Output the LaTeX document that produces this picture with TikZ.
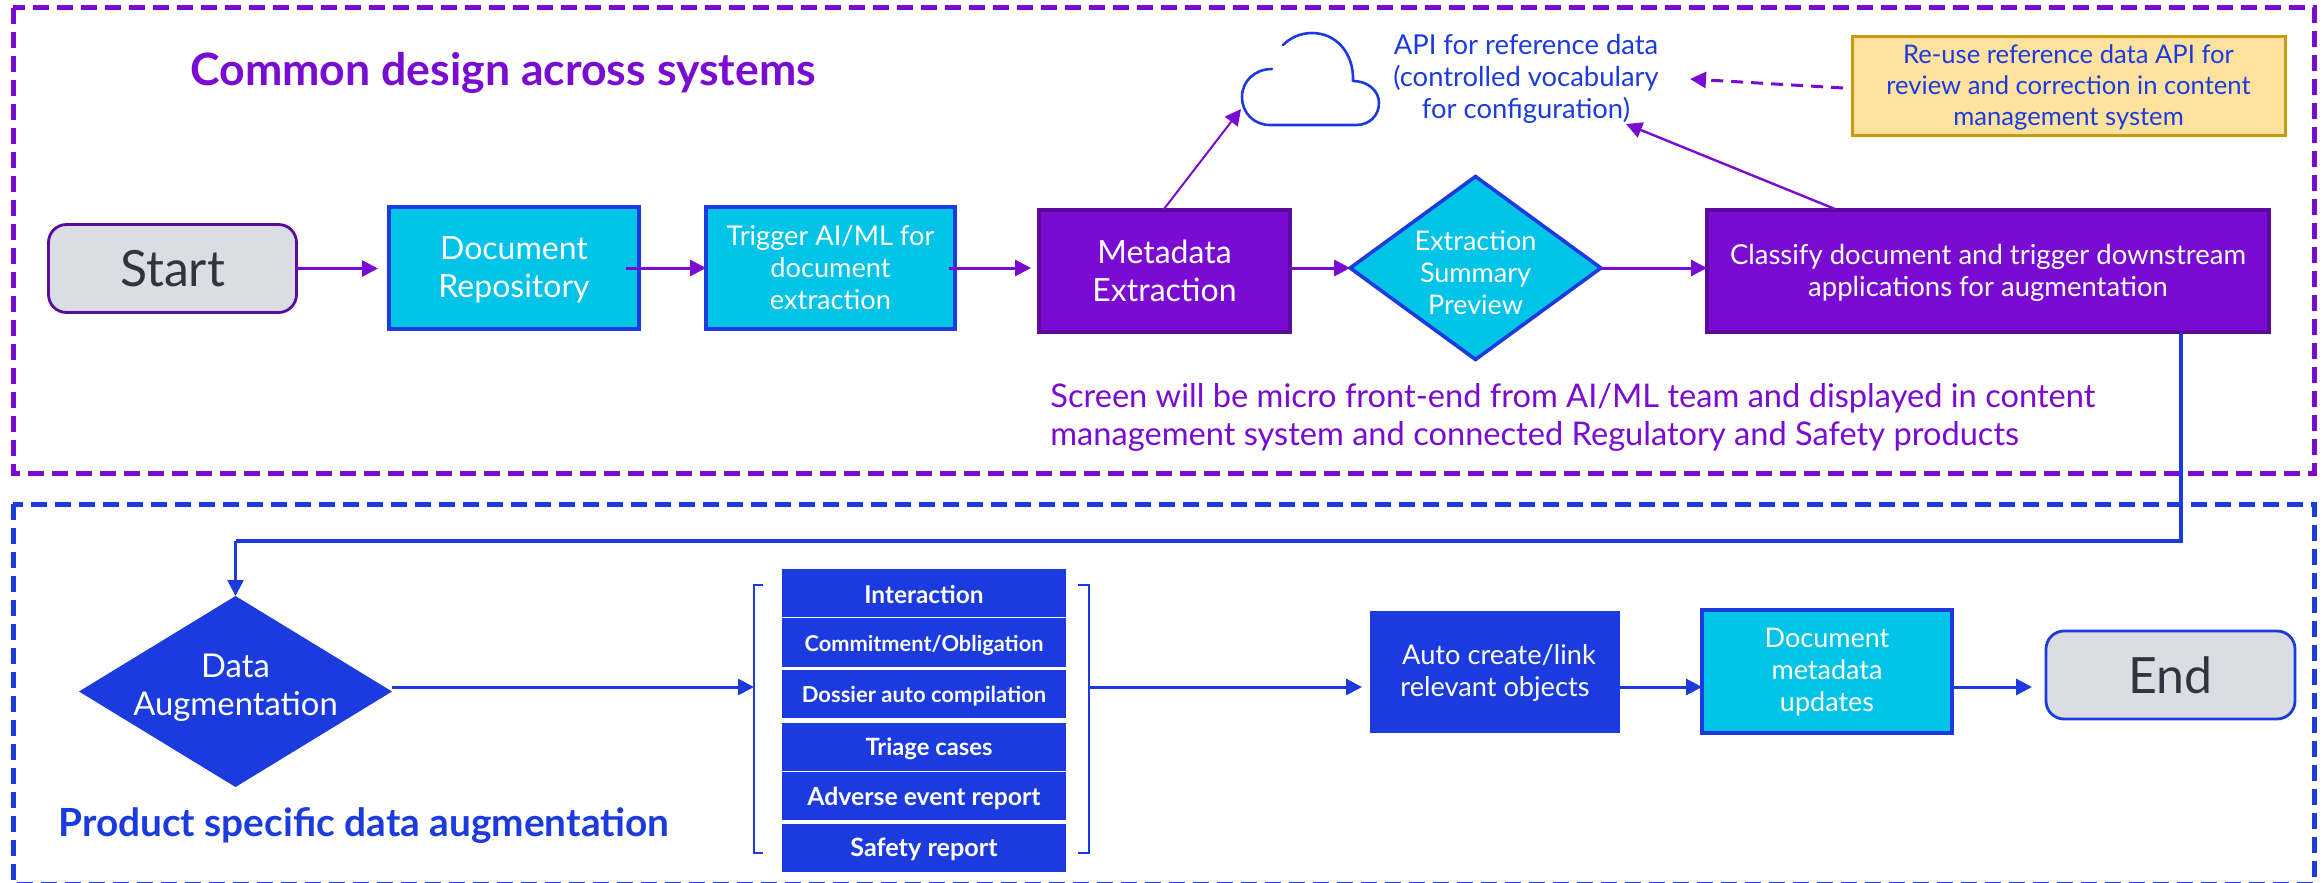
\documentclass[tikz,border=0pt]{standalone}
\usepackage{fontspec}
\setmainfont{Lato}
\usetikzlibrary{arrows.meta,shapes.geometric,calc}
\definecolor{pur}{HTML}{7A0BD2}
\definecolor{purd}{HTML}{5C0A9E}
\definecolor{blu}{HTML}{1B3BDF}
\definecolor{cya}{HTML}{02C4E8}
\definecolor{gry}{HTML}{DCDCE4}
\definecolor{ink}{HTML}{33333F}
\definecolor{yel}{HTML}{FFE29E}
\definecolor{yeld}{HTML}{C99A0E}
\newcommand{\fs}[2]{\fontsize{#1}{#2}\selectfont}
\newcommand{\dn}[1]{\rule{0pt}{#1}}
\tikzset{
  wd/.style={minimum width=#1*0.5pt},
  ht/.style={minimum height=#1*0.5pt},
  basebox/.style={inner sep=0pt,outer sep=0pt,align=center,text=white},
  cyanbox/.style={basebox,draw=blu,fill=cya,line width=2pt},
  purbox/.style={basebox,draw=purd,fill=pur,line width=2pt},
  bluebox/.style={basebox,fill=blu},
  termbox/.style={basebox,fill=gry,line width=1.4pt,rounded corners=9pt,text=ink},
  dmd/.style={diamond,aspect=#1,inner sep=0pt,outer sep=0pt,align=center,text=white},
  frameP/.style={draw=pur,line width=2.5pt,dash pattern=on 8pt off 4pt},
  frameB/.style={draw=blu,line width=2.5pt,dash pattern=on 8pt off 4pt},
  arrP/.style={draw=pur,line width=1.5pt,-{Triangle[length=8pt,width=8pt]}},
  arrB/.style={draw=blu,line width=1.5pt,-{Triangle[length=8pt,width=8pt]}},
  stk/.style={basebox,fill=blu,wd=284},
}
\begin{document}
\begin{tikzpicture}[x=0.5pt,y=-0.5pt]
\useasboundingbox (0,0) rectangle (2323,883);
\fill[white] (0,0) rectangle (2323,883);
% frames
\draw[frameP] (13,8) rectangle (2314,473);
\draw[frameB] (13,504) rectangle (2314,884);
% titles
\node[anchor=west,inner sep=0pt,text=pur,font=\bfseries\fs{22.3}{26}] (t1) at (190,73) {Common design across systems};
\node[anchor=west,inner sep=0pt,text=blu,font=\bfseries\fs{19.4}{23}] (t2) at (58,826) {Product specific data augmentation};
% upper row
\node[termbox,draw=purd,wd=248,ht=88,font=\fs{25}{28}] (start) at (172.5,268.5) {Start};
\node[cyanbox,wd=250,ht=122,font=\fs{16}{19}] (repo) at (514,268) {\dn{13pt}Document\\Repository};
\node[cyanbox,wd=249,ht=122,font=\fs{13.6}{16}] (trig) at (830.5,268) {Trigger AI/ML for\\document\\extraction};
\node[purbox,wd=251,ht=122,font=\fs{16}{19}] (meta) at (1164.5,271) {Metadata\\Extraction};
\node[dmd=1.37,draw=blu,fill=cya,line width=1.8pt,minimum width=125pt,minimum height=91pt,font=\fs{13.5}{16}] (prev) at (1475.5,268) {\dn{15pt}Extraction\\Summary\\Preview};
\node[purbox,wd=562,ht=122,font=\fs{13.75}{16}] (cls) at (1988,271) {\dn{12pt}Classify document and trigger downstream\\applications for augmentation};
% cloud
\draw[blu,line width=1.3pt,line cap=round,line join=round] (1272,69) .. controls (1255,69) and (1242,81) .. (1242,97)
  .. controls (1242,113) and (1254,125) .. (1270,125) -- (1356,125)
  .. controls (1370,125) and (1379,115) .. (1379,103)
  .. controls (1379,91) and (1368,81) .. (1353,81)
  .. controls (1354,53) and (1336,33) .. (1312,33)
  .. controls (1300,33) and (1290,38) .. (1283,45);
\coordinate (cloudEnd) at (1241,109);
\node[inner sep=0pt,align=center,text=blu,font=\fs{13.7}{16}] (api) at (1526,79) {API for reference data\\(controlled vocabulary\\for configuration)};
\node[basebox,draw=yeld,fill=yel,line width=1.5pt,wd=433,ht=99,text=blu,font=\fs{12.8}{15.5}] (yb) at (2068.5,86.5) {\dn{10pt}Re-use reference data API for\\review and correction in content\\management system};
\node[anchor=north west,inner sep=0pt,align=left,text=pur,font=\fs{16.3}{18.8}] (scr) at (1050,383) {Screen will be micro front-end from AI/ML team and displayed in content\\management system and connected Regulatory and Safety products};
\coordinate (apiR) at (1690,79);
\coordinate (apiB) at (1626,124);
\coordinate (metaTop) at (1164,209);
\coordinate (clsTop) at (1835,209);
\coordinate (clsBot) at (2181,333);
\coordinate (turn) at (2181,541);
% upper connectors
\draw[arrP,shorten >=5.5pt] (start.east) -- (repo.west |- start.east);
\draw[arrP,shorten <=-6.5pt] (repo.east) -- (trig.west);
\draw[arrP,shorten <=-3pt,shorten >=4pt] (trig.east) -- (meta.west |- trig.east);
\draw[arrP] (meta.east |- prev.west) -- (prev.west);
\draw[arrP] (prev.east) -- (cls.west |- prev.east);
\draw[draw=pur,line width=1pt,-{Triangle[length=8pt,width=8pt]}] (metaTop) -- (cloudEnd);
\draw[arrP,line width=1.2pt] (clsTop) -- (apiB);
\draw[arrP,dash pattern=on 6pt off 4pt] ($(yb.west)+(-9,1.5)$) -- (apiR);
% lower
\node[dmd=1.64,fill=blu,minimum width=156.5pt,minimum height=95.5pt] (aug) at (235.5,691.5) {};
\node[basebox,font=\fs{16.4}{19}] (augT) at (235.5,688) {Data\\Augmentation};
\draw[blu,line width=1.6pt] (clsBot) -- (turn) -- (turn -| aug.north);
\draw[arrB,line width=1.3pt] (turn -| aug.north) -- (aug.north);
\node[stk,ht=48,font=\bfseries\fs{12.2}{13}] (s1) at (924,593) {\dn{11pt}Interaction};
\node[stk,ht=49,font=\bfseries\fs{10.9}{13}] (s2) at (924,642.5) {\dn{11pt}Commitment/Obligation};
\node[stk,ht=48,font=\bfseries\fs{11}{13}] (s3) at (924,694) {\dn{10pt}Dossier auto compilation};
\node[stk,ht=48,font=\bfseries\fs{11.9}{13}] (s4) at (924,747) {\dn{11pt}\hspace{5pt}Triage cases};
\node[stk,ht=48,font=\bfseries\fs{12.4}{13}] (s5) at (924,796) {\dn{12pt}Adverse event report};
\node[stk,ht=48,font=\bfseries\fs{12.6}{13}] (s6) at (924,848) {\dn{11pt}Safety report};
\coordinate (brL) at (754,687);
\coordinate (brR) at (1089,687);
\draw[blu,line width=1.3pt] (763,585) -- (754,585) -- (754,853) -- (763,853);
\draw[blu,line width=1.3pt] (1078,585) -- (1089,585) -- (1089,853) -- (1078,853);
\node[bluebox,wd=250,ht=122,font=\fs{13.6}{16}] (auto) at (1495,672) {\dn{11pt}\hspace{4pt}Auto create/link\\relevant objects};
\node[cyanbox,wd=250,ht=123,font=\fs{13.5}{16}] (dm) at (1827,671.5) {\dn{10pt}Document\\metadata\\updates};
\node[termbox,draw=blu,wd=249,ht=88,font=\fs{25}{28}] (endn) at (2170.5,675) {End};
\draw[arrB] (brL -| aug.east) -- (brL);
\draw[arrB,shorten >=4pt] (brR) -- (auto.west |- brR);
\draw[arrB] (auto.east |- brR) -- (dm.west |- brR);
\draw[arrB,shorten >=7pt] (dm.east |- brR) -- (endn.west |- brR);
\end{tikzpicture}
\end{document}
